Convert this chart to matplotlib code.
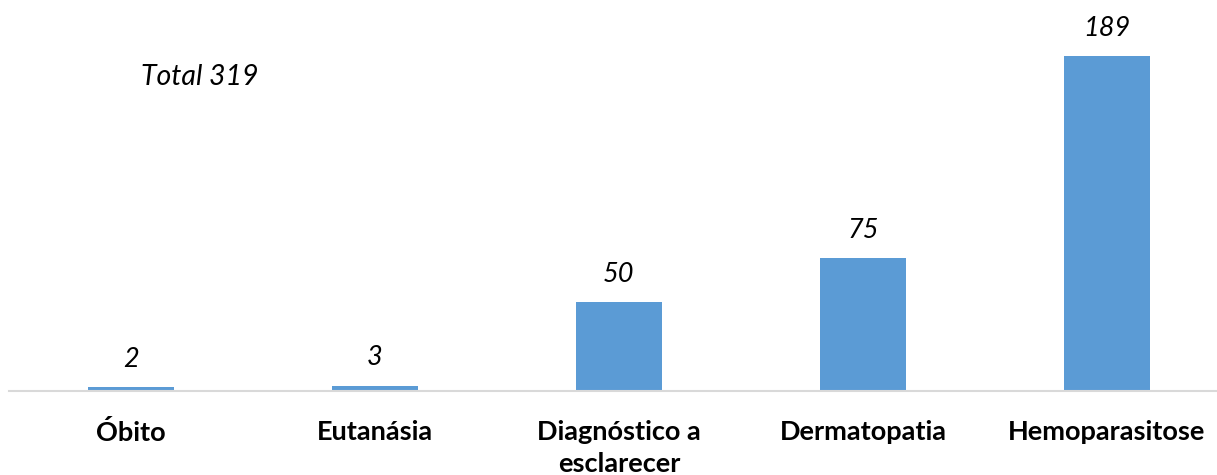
import matplotlib
matplotlib.use("Agg")
import matplotlib.pyplot as plt

categories = ["Óbito", "Eutanásia", "Diagnóstico a\nesclarecer", "Dermatopatia", "Hemoparasitose"]
values = [2, 3, 50, 75, 189]
total_label = "Total 319"

plt.rcParams['font.family'] = ['Lato', 'DejaVu Sans']

W, H = 1217, 475
fig = plt.figure(figsize=(W / 100, H / 100), dpi=100)

# axes spans x from 9 px to 1229 px, baseline at 391 px from top
ax = fig.add_axes([9 / W, (H - 391) / H, 1220 / W, 391 / H])

x = list(range(len(categories)))
ax.bar(x, values, width=0.35, color="#5B9BD5", zorder=2)
ax.set_xlim(-0.5, len(categories) - 0.5)
ax.set_ylim(0, 189 * 391 / 335)

for xi, v in zip(x, values):
    ax.annotate(str(v), (xi, v), xytext=(0, 20), textcoords="offset points",
                ha="center", va="center", fontsize=19.5, style="italic")

for xi, c in zip(x, categories):
    ax.annotate(c, (xi, 0), xytext=(0, -21), textcoords="offset points",
                ha="center", va="top", fontsize=19.5, fontweight="bold",
                linespacing=1.4, annotation_clip=False)

for s in ["top", "right", "left"]:
    ax.spines[s].set_visible(False)
ax.spines["bottom"].set_color("#D9D9D9")
ax.spines["bottom"].set_linewidth(1.5)
ax.set_xticks([])
ax.set_yticks([])

fig.text(200 / W, 1 - 77 / H, total_label, ha="center", va="center",
         fontsize=20.5, style="italic")

fig.savefig("out.png", dpi=100)
